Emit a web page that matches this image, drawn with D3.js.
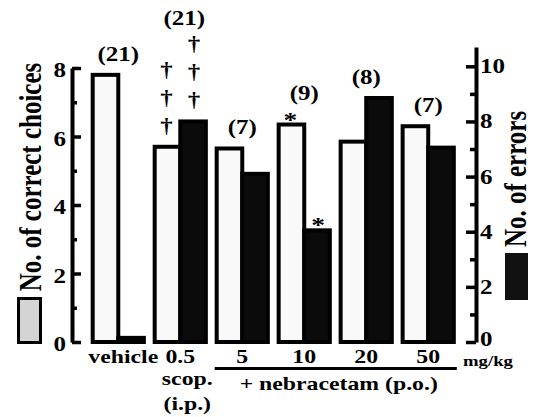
<!DOCTYPE html>
<html>
<head>
<meta charset="utf-8">
<script src="https://cdn.jsdelivr.net/npm/d3@7"></script>
<style>
  html, body { margin: 0; padding: 0; background: #fff; }
  svg { display: block; }
  text { font-family: "Liberation Serif", "Times New Roman", serif; font-weight: bold; fill: #000; }
</style>
</head>
<body>
<svg id="chart" width="534" height="417"></svg>
<script>
// ---- data ----
const groups = ["vehicle", "0.5", "5", "10", "20", "50"];
const correctChoices = [7.8, 5.7, 5.65, 6.35, 5.85, 6.3];
const errors = [0.15, 8.0, 6.1, 4.05, 8.85, 7.05];
const nLabels = ["(21)", "(21)", "(7)", "(9)", "(8)", "(7)"];
const correctMarks = ["", "†††", "", "*", "", ""];
const errorMarks = ["", "†††", "", "*", "", ""];
const leftTicks = [0, 2, 4, 6, 8];
const leftMinor = [1, 3, 5, 7];
const rightTicks = [0, 2, 4, 6, 8, 10];
const rightMinor = [1, 3, 5, 7, 9];

// ---- layout ----
const svg = d3.select("#chart");
const SX = 1.25;          // horizontal stretch of the scanned lettering
const baseY = 342;
const x0 = d3.scaleBand().domain(groups).range([84.5, 462]).paddingInner(0.11).paddingOuter(0.1);
const bw = x0.bandwidth();
const yL = d3.scaleLinear().domain([0, 8]).range([baseY, 68]);
const yR = d3.scaleLinear().domain([0, 10.7]).range([baseY, 47]);

function txt(x, y, s, size, anchor, rot) {
  return svg.append("text")
    .attr("transform", `translate(${x},${y}) scale(${SX},1)` + (rot ? ` rotate(${rot})` : ""))
    .attr("text-anchor", anchor || "middle")
    .style("font-size", size + "px")
    .text(s);
}

// ---- bars ----
const sw = 4;
groups.forEach((g, i) => {
  const xw = x0(g), xd = x0(g) + bw / 2, w = bw / 2;
  svg.append("rect")
    .attr("x", xw + sw / 2).attr("y", yL(correctChoices[i]))
    .attr("width", w - sw / 2).attr("height", baseY - yL(correctChoices[i]))
    .attr("fill", "#f9f9f9").attr("stroke", "#000").attr("stroke-width", sw);
  svg.append("rect")
    .attr("x", xd).attr("y", yR(errors[i]))
    .attr("width", w - sw / 2).attr("height", baseY - yR(errors[i]))
    .attr("fill", "#0b0b0b").attr("stroke", "#000").attr("stroke-width", sw);
});

// ---- significance marks and n labels ----
function drawMarks(mark, cx, outerTop) {
  if (!mark) return outerTop;
  if (mark[0] === "*") {
    txt(cx, outerTop + 4, "*", 22);
    return outerTop - 11;
  }
  const n = mark.length;
  let top = outerTop;
  for (let k = 0; k < n; k++) {
    const c = outerTop - 17.5 - k * 28;
    txt(cx, c + 5.5, "†", 20);
    top = c - 8.5;
  }
  return top;
}
groups.forEach((g, i) => {
  const w = bw / 2;
  const t1 = drawMarks(correctMarks[i], x0(g) + w / 2, yL(correctChoices[i]) - 2);
  const t2 = drawMarks(errorMarks[i], x0(g) + w + w / 2, yR(errors[i]) - 2);
  const top = Math.min(t1, t2);
  txt(x0(g) + bw / 2 + (i === 1 ? 4 : 0), top - 12, nLabels[i], 20);
});

// ---- axes ----
const gL = svg.append("g").attr("transform", "translate(72,0)");
gL.call(d3.axisLeft(yL).tickValues(leftTicks).tickSizeInner(-9).tickSizeOuter(0).tickFormat(""));
gL.append("g").call(d3.axisLeft(yL).tickValues(leftMinor).tickSizeInner(-5).tickSizeOuter(0).tickFormat(""))
  .select(".domain").remove();
gL.selectAll("path.domain").attr("stroke", "#000").attr("stroke-width", 4);
gL.selectAll(".tick line").attr("stroke", "#000").attr("stroke-width", 3.5);
leftTicks.forEach(v => txt(66, yL(v) + 9, String(v), 20, "end"));

const gR = svg.append("g").attr("transform", "translate(476,0)");
gR.call(d3.axisRight(yR).tickValues(rightTicks).tickSizeInner(-10).tickSizeOuter(0).tickFormat(""));
gR.append("g").call(d3.axisRight(yR).tickValues(rightMinor).tickSizeInner(-6).tickSizeOuter(0).tickFormat(""))
  .select(".domain").remove();
gR.selectAll("path.domain").attr("stroke", "#000").attr("stroke-width", 4);
gR.selectAll(".tick line").attr("stroke", "#000").attr("stroke-width", 3.5);
rightTicks.forEach(v => txt(480, yR(v) + (v === 0 ? 4 : 7), String(v), 20, "start"));

// ---- axis titles and legend keys ----
txt(41, 177, "No. of correct choices", 25, "middle", -90);
svg.append("rect").attr("x", 18.5).attr("y", 298.5).attr("width", 22).attr("height", 44)
  .attr("fill", "#d4d4d4").attr("stroke", "#000").attr("stroke-width", 3);
txt(526, 179, "No. of errors", 25, "middle", -90);
svg.append("rect").attr("x", 505).attr("y", 253).attr("width", 23).attr("height", 47)
  .attr("fill", "#111");

// ---- x labels ----
groups.forEach((g, i) => {
  txt(x0(g) + bw / 2 + (i === 0 ? 5 : 0), 363, g, 19);
});
const cx05 = x0("0.5") + bw / 2 + 7;
txt(cx05, 385, "scop.", 19);
txt(cx05, 410, "(i.p.)", 19);
const lx1 = x0("5"), lx2 = x0("50") + bw + 1;
svg.append("line").attr("x1", lx1).attr("x2", lx2).attr("y1", 368.5).attr("y2", 368.5)
  .attr("stroke", "#000").attr("stroke-width", 3);
txt((lx1 + lx2) / 2 + 3, 390, "+ nebracetam (p.o.)", 19);
txt(463, 366, "mg/kg", 15, "start");
</script>
</body>
</html>
